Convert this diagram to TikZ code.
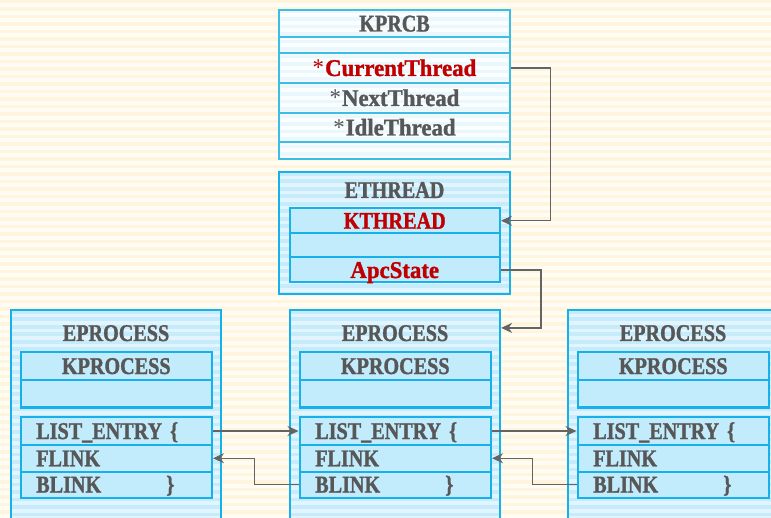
\documentclass[tikz,border=0pt]{standalone}
\usepackage{fontspec}
\setmainfont{Liberation Serif}[FakeStretch=0.84, BoldFeatures={FakeBold=1.3}]
\newfontfamily\mixfont{Liberation Serif}[FakeStretch=0.95, BoldFeatures={FakeBold=1.3}]
\usetikzlibrary{arrows.meta,calc}

\definecolor{bgbase}{HTML}{FFFCF4}
\definecolor{bgstripe}{HTML}{FFF4DE}
\definecolor{kfill}{HTML}{FBFEFF}
\definecolor{kstripe}{HTML}{EAF8FE}
\definecolor{ofill}{HTML}{E2F5FE}
\definecolor{ostripe}{HTML}{C6ECFB}
\definecolor{cellfill}{HTML}{C2EBFC}
\definecolor{kline}{HTML}{3CBDE4}
\definecolor{cline}{HTML}{16B1EA}
\definecolor{txtgray}{HTML}{575757}
\definecolor{txtred}{HTML}{C00000}
\definecolor{arrgray}{HTML}{646464}

\newcommand\lbl{\bfseries\fontsize{24}{26}\selectfont}
% pointer marker in front of a field name
\newcommand\ptr{\textmd{*}\kern1pt}
% a rectangular node spanning two corner points (x1,y1) and (x2,y2)
\newcommand\cellat[6]{\node[#6,
    minimum width={((#4)-(#2))*1pt}, minimum height={((#5)-(#3))*1pt}]
    (#1) at ({((#2)+(#4))/2},{((#3)+(#5))/2})}

\tikzset{
  stripes/.style 2 args={path picture={
    \foreach \k in {0,7.5,...,262}{
      \fill[#1] ($(path picture bounding box.north west)+(0,\k)$) rectangle ++(900,#2);
    }}},
  txt/.style={inner sep=0pt, text height=16pt, text depth=0pt, font=\lbl, text=txtgray},
  mixed/.style={font=\mixfont\lbl},
  kbox/.style={draw=kline, line width=1.4pt, fill=kfill, stripes={kstripe}{3.5}, inner sep=0pt},
  krow/.style={draw=kline, line width=1.4pt, txt},
  obox/.style={draw=cline, line width=2.2pt, fill=ofill, stripes={ostripe}{3.8}, inner sep=0pt},
  cell/.style={draw=cline, line width=2pt, fill=cellfill, txt},
  lrow/.style={cell, text width=160pt, align=left},
  ttl/.style={txt},
  conn/.style={draw=arrgray, line width=1.3pt, -{Stealth[length=11pt,width=10pt,inset=3.5pt]}},
}

\begin{document}
\begin{tikzpicture}[x=1pt, y=-1pt]
\useasboundingbox (0,0) rectangle (771,518);
\clip (0,0) rectangle (771,518);

% striped background
\fill[bgbase] (0,0) rectangle (771,518);
\foreach \k in {0,7.5,...,518}{\fill[bgstripe] (0,\k) rectangle (771,\k+3.5);}

% KPRCB
\cellat{kprcb}{279}{10}{510}{159}{kbox}{};
\cellat{kttl}{279}{10}{510}{37}{krow}{KPRCB};
\cellat{kempty}{279}{37}{510}{53}{krow}{};
\cellat{cur}{279}{53}{510}{83}{krow,mixed}{\textcolor{txtred}{\ptr CurrentThread}};
\cellat{nxt}{279}{83}{510}{113}{krow,mixed}{\ptr NextThread};
\cellat{idl}{279}{113}{510}{142}{krow,mixed}{\ptr IdleThread};
\cellat{kend}{279}{142}{510}{159}{krow}{};

% ETHREAD
\cellat{eth}{279}{172}{510}{294}{obox}{};
\node[ttl] (ethttl) at (394.5,190) {ETHREAD};
\cellat{kth}{289.5}{208}{500}{233.5}{cell}{\textcolor{txtred}{KTHREAD}};
\cellat{thempty}{289.5}{233.5}{500}{257.5}{cell}{};
\cellat{apc}{289.5}{257.5}{500}{282.5}{cell,mixed}{\textcolor{txtred}{ApcState}};

% EPROCESS blocks
\foreach \n/\x in {A/11, B/290, C/568}{
  \cellat{ep\n}{\x}{310}{\x+210}{530}{obox}{};
  \node[ttl] (ttl\n) at (\x+105,333) {EPROCESS};
  \cellat{kp\n}{\x+9.5}{352}{\x+201}{380}{cell}{KPROCESS};
  \cellat{kpe\n}{\x+9.5}{380}{\x+201}{407.5}{cell}{};
  \cellat{le\n}{\x+9.5}{417}{\x+201}{445}{lrow}{LIST\_ENTRY \{};
  \cellat{fl\n}{\x+9.5}{445}{\x+201}{471.5}{lrow}{FLINK};
  \cellat{bl\n}{\x+9.5}{471.5}{\x+201}{497.5}{lrow}{BLINK\hfill\}\hspace*{22pt}};
}

% pointers
\coordinate (epBin) at ($(epB.north east)+(0,19)$);
\draw[conn] (cur.east) -- ++(40,0) |- (kth.east);
\draw[conn] (apc.east) -- ++(40,0) |- (epBin);
\draw[conn] (leA.east) -- (leB.west);
\draw[conn] (leB.east) -- (leC.west);
\draw[conn] (blB.west) -- ++(-44,0) |- (flA.east);
\draw[conn] (blC.west) -- ++(-44,0) |- (flB.east);
\end{tikzpicture}
\end{document}
